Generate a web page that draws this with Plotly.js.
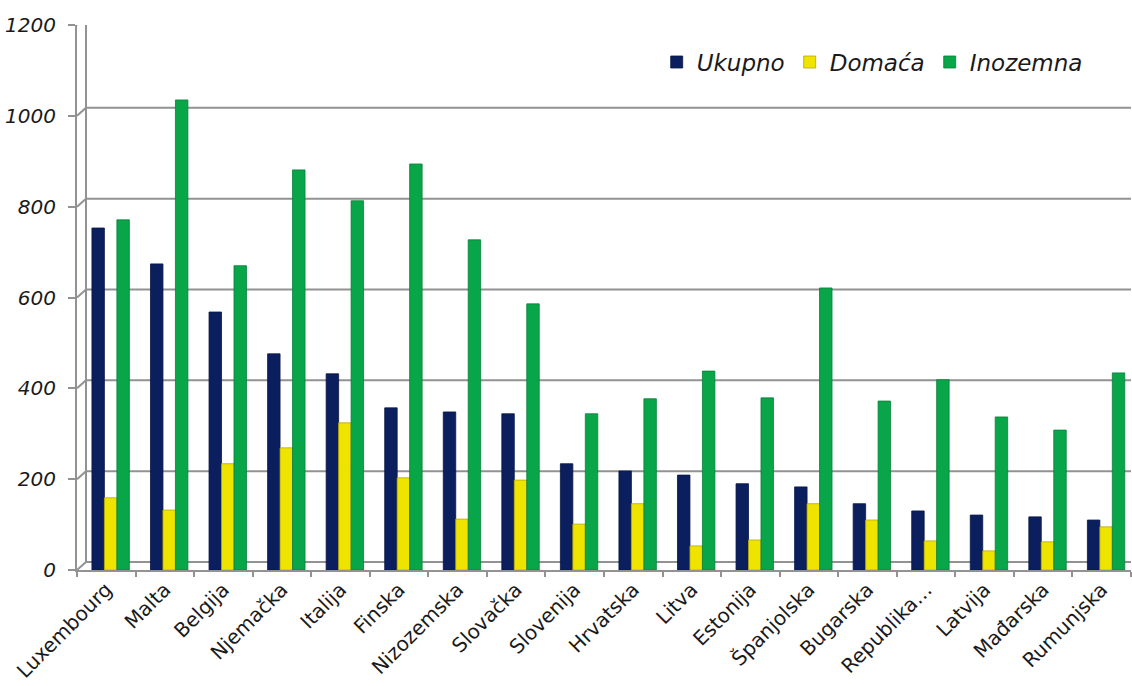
<!DOCTYPE html>
<html>
<head>
<meta charset="utf-8">
<script src="https://cdn.plot.ly/plotly-3.0.1.min.js"></script>
<style>html,body{margin:0;padding:0;background:#fff;}#chart{width:1132px;height:686px;}</style>
</head>
<body>
<div id="chart"></div>
<script>
const categories = ['Luxembourg','Malta','Belgija','Njemačka','Italija','Finska','Nizozemska','Slovačka','Slovenija','Hrvatska','Litva','Estonija','Španjolska','Bugarska','Republika…','Latvija','Mađarska','Rumunjska'];
const ukupno   = [753,674,568,476,432,357,348,344,234,218,209,190,183,146,130,121,117,110];
const domaca   = [159,132,234,269,324,203,112,198,101,146, 53, 66,146,110, 64, 42, 62, 95];
const inozemna = [771,1035,670,881,813,894,727,586,344,377,438,379,621,372,419,337,308,434];
const seriesNames = ['Ukupno','Domaća','Inozemna'];
const yTicks = [0,200,400,600,800,1000,1200];

const W = 1132, H = 686, ML = 77, MR = 1, MT = 25, MB = 116;
const plotW = W - ML - MR;
const depthX = 9, depthY = 8;      // pseudo-3D wall offset (px)
const wallX = depthX / plotW;
const gridColor = '#929292';

const colors = ['#0b1f5e', '#eee400', '#08a648'];
const edge = ['#071645', '#b5a800', '#05803a'];
const barW = 0.213;
const offsets = [-0.245, -0.032, 0.181];
const vals = [ukupno, domaca, inozemna];

const traces = vals.map((v, i) => ({
  type: 'bar',
  name: seriesNames[i],
  x: categories,
  y: v,
  width: barW,
  offset: offsets[i],
  marker: {color: colors[i], line: {color: edge[i], width: 0.8}},
  hoverinfo: 'x+y+name'
}));

const shapes = [];
yTicks.forEach(v => {
  shapes.push({type: 'line', layer: 'below', xref: 'paper', x0: wallX, x1: 1,
    yref: 'y', ysizemode: 'pixel', yanchor: v, y0: depthY, y1: depthY,
    line: {color: gridColor, width: 2}});
  shapes.push({type: 'line', layer: 'below', xref: 'paper', x0: 0, x1: wallX,
    yref: 'y', ysizemode: 'pixel', yanchor: v, y0: 0, y1: depthY,
    line: {color: gridColor, width: 2}});
});
shapes.push({type: 'line', layer: 'below', xref: 'paper', x0: wallX, x1: wallX,
  yref: 'y', ysizemode: 'pixel', yanchor: yTicks[0], y0: depthY, y1: depthY + (H - MT - MB),
  line: {color: gridColor, width: 2}});

const layout = {
  width: W, height: H,
  margin: {l: ML, r: MR, t: MT, b: MB},
  paper_bgcolor: '#ffffff',
  plot_bgcolor: 'rgba(0,0,0,0)',
  barmode: 'overlay',
  showlegend: true,
  legend: {
    orientation: 'h', x: 0.55, xanchor: 'left', y: 0.932, yanchor: 'middle',
    font: {family: 'DejaVu Sans', size: 23, style: 'italic', color: '#1a1a1a'},
    bgcolor: 'rgba(0,0,0,0)', traceorder: 'normal'
  },
  xaxis: {
    type: 'category',
    range: [-0.5, categories.length - 0.5],
    showgrid: false, zeroline: false,
    showline: true, linecolor: gridColor, linewidth: 2,
    ticks: 'outside', tickson: 'boundaries', ticklen: 5, tickcolor: gridColor, tickwidth: 2,
    tickangle: -45,
    ticklabelstandoff: -2,
    tickfont: {family: 'DejaVu Sans', size: 20, color: '#1a1a1a'},
    fixedrange: true
  },
  yaxis: {
    range: [0, 1200],
    tickvals: yTicks,
    ticktext: yTicks.map(String),
    showgrid: false, zeroline: false,
    showline: true, linecolor: gridColor, linewidth: 2,
    ticks: 'outside', ticklen: 7, tickcolor: gridColor, tickwidth: 2,
    ticklabelstandoff: 8,
    tickfont: {family: 'DejaVu Sans', size: 20, style: 'italic', color: '#1a1a1a'},
    fixedrange: true
  },
  shapes: shapes
};

Plotly.newPlot('chart', traces, layout, {displayModeBar: false, staticPlot: true});
</script>
</body>
</html>
